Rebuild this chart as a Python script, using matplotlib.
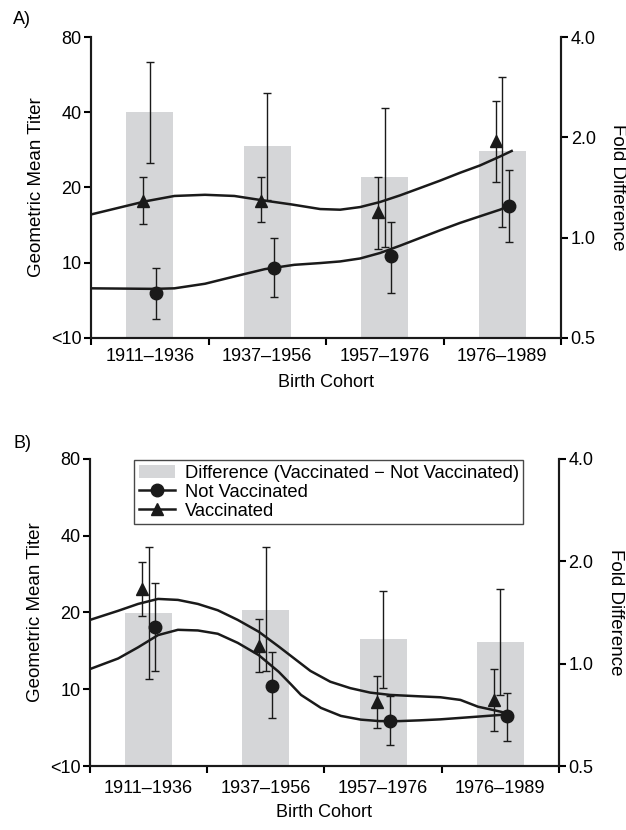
import numpy as np
import matplotlib
matplotlib.use('Agg')
import matplotlib.pyplot as plt
from matplotlib.lines import Line2D
from matplotlib.patches import Patch

plt.rcParams['font.family'] = ['Liberation Sans', 'DejaVu Sans']
plt.rcParams['font.size'] = 13

cohorts = ['1911\u20131936', '1937\u20131956', '1957\u20131976', '1976\u20131989']

# panel A
vacc_A = [17.7, 17.7, 15.9, 30.6]
vacc_A_lo = [14.3, 14.6, 11.4, 21.0]
vacc_A_hi = [22.1, 22.1, 22.1, 44.3]
novac_A = [7.6, 9.55, 10.6, 16.9]
novac_A_lo = [5.96, 7.3, 7.6, 12.1]
novac_A_hi = [9.55, 12.6, 14.6, 23.4]
fold_A = [2.38, 1.89, 1.52, 1.82]
fold_A_lo = [1.68, 1.3, 0.94, 1.08]
fold_A_hi = [3.36, 2.71, 2.45, 3.03]
curve_vacc_A_x = [-0.5, -0.04, 0.21, 0.47, 0.72, 0.95, 1.21, 1.45, 1.62, 1.79, 1.96, 2.13, 2.30, 2.47, 2.64, 2.81, 2.98, 3.08]
curve_vacc_A_y = [15.6, 17.6, 18.5, 18.7, 18.5, 17.8, 17.1, 16.4, 16.3, 16.7, 17.5, 18.6, 19.9, 21.3, 22.9, 24.5, 26.6, 28.0]
curve_novac_A_x = [-0.5, 0.04, 0.21, 0.47, 0.72, 0.98, 1.23, 1.45, 1.62, 1.79, 1.96, 2.13, 2.30, 2.47, 2.64, 2.81, 2.98, 3.05]
curve_novac_A_y = [7.9, 7.86, 7.9, 8.24, 8.81, 9.43, 9.81, 9.97, 10.12, 10.4, 10.94, 11.7, 12.56, 13.48, 14.43, 15.34, 16.3, 16.8]

# panel B
vacc_B = [24.8, 14.8, 8.9, 9.1]
vacc_B_lo = [19.4, 11.7, 7.05, 6.86]
vacc_B_hi = [31.6, 18.9, 11.3, 12.0]
novac_B = [17.5, 10.3, 7.5, 7.85]
novac_B_lo = [11.8, 7.7, 6.03, 6.27]
novac_B_hi = [26.1, 14.0, 9.4, 9.67]
fold_B = [1.41, 1.44, 1.18, 1.16]
fold_B_lo = [0.9, 0.95, 0.85, 0.81]
fold_B_hi = [2.2, 2.2, 1.64, 1.66]
curve_vacc_B_x = [-0.5, -0.26, -0.09, 0.08, 0.25, 0.42, 0.59, 0.76, 0.94, 1.11, 1.28, 1.38, 1.55, 1.72, 1.89, 2.06, 2.31, 2.49, 2.66, 2.81, 2.94, 3.06]
curve_vacc_B_y = [18.7, 20.3, 21.6, 22.6, 22.4, 21.6, 20.4, 18.7, 16.8, 14.7, 12.8, 11.8, 10.7, 10.1, 9.7, 9.5, 9.38, 9.3, 9.08, 8.54, 8.29, 8.05]
curve_novac_B_x = [-0.5, -0.26, -0.09, 0.08, 0.25, 0.42, 0.59, 0.76, 0.94, 1.11, 1.21, 1.30, 1.47, 1.64, 1.81, 1.97, 2.14, 2.31, 2.49, 2.66, 2.81, 3.0, 3.06]
curve_novac_B_y = [12.0, 13.2, 14.6, 16.3, 17.1, 17.0, 16.5, 15.2, 13.6, 11.7, 10.5, 9.5, 8.45, 7.86, 7.6, 7.5, 7.5, 7.55, 7.62, 7.72, 7.81, 7.93, 8.0]

BAR = '#d5d6d8'
INK = '#1a1a1a'


def panel(rect, vacc, vlo, vhi, novac, nlo, nhi, fold, flo, fhi, cvx, cvy, cnx, cny,
          tickpad=7, xlabelpad=7):
    ax = fig.add_axes(rect)
    ax2 = ax.twinx()
    ax.set_zorder(ax2.get_zorder() + 1)
    ax.patch.set_visible(False)
    x = np.arange(len(cohorts))

    fold = np.array(fold)
    ax2.bar(x, fold, width=0.4, color=BAR, zorder=1)
    ax2.errorbar(x, fold, yerr=[fold - np.array(flo), np.array(fhi) - fold],
                 fmt='none', ecolor=INK, elinewidth=1, capsize=3, capthick=1, zorder=2)

    ax.plot(cvx, cvy, color=INK, lw=1.8, zorder=3, solid_joinstyle='round')
    ax.plot(cnx, cny, color=INK, lw=1.8, zorder=3, solid_joinstyle='round')
    vacc = np.array(vacc)
    novac = np.array(novac)
    ax.errorbar(x - 0.055, vacc, yerr=[vacc - np.array(vlo), np.array(vhi) - vacc],
                fmt='^', color=INK, ms=8, elinewidth=1, capsize=3, capthick=1, zorder=4)
    ax.errorbar(x + 0.055, novac, yerr=[novac - np.array(nlo), np.array(nhi) - novac],
                fmt='o', color=INK, ms=9, elinewidth=1, capsize=3, capthick=1, zorder=4)

    ax.set_yscale('log', base=2)
    ax.set_ylim(5, 80)
    ax.set_yticks([5, 10, 20, 40, 80])
    ax.set_yticklabels(['<10', '10', '20', '40', '80'])
    ax.yaxis.set_minor_locator(matplotlib.ticker.NullLocator())
    ax2.set_yscale('log', base=2)
    ax2.set_ylim(0.5, 4)
    ax2.set_yticks([0.5, 1, 2, 4])
    ax2.set_yticklabels(['0.5', '1.0', '2.0', '4.0'])
    ax2.yaxis.set_minor_locator(matplotlib.ticker.NullLocator())

    ax.set_xlim(-0.5, 3.5)
    ax.set_xticks([-0.5, 0.5, 1.5, 2.5, 3.5])
    ax.set_xticklabels([])
    ax.set_xticks(x, minor=True)
    ax.set_xticklabels(cohorts, minor=True)
    ax.tick_params(axis='x', which='minor', length=0, pad=tickpad, labelsize=13)
    ax.tick_params(axis='x', which='major', length=5, width=1.5)
    ax.tick_params(axis='y', length=5, width=1.5, labelsize=13, pad=2)
    ax2.tick_params(axis='y', length=5, width=1.5, labelsize=13, pad=2)

    for a in (ax, ax2):
        a.spines['top'].set_visible(False)
        for s in ('left', 'right', 'bottom'):
            a.spines[s].set_linewidth(1.5)
            a.spines[s].set_color(INK)

    ax.set_xlabel('Birth Cohort', fontsize=13, labelpad=xlabelpad)
    ax.set_ylabel('Geometric Mean Titer', fontsize=13.5, labelpad=4)
    ax2.set_ylabel('Fold Difference', fontsize=13.5, rotation=270, labelpad=22)
    return ax, ax2


fig = plt.figure(figsize=(6.26, 8.3), dpi=100)

axA, _ = panel([0.1454, 0.5928, 0.7508, 0.3626],
               vacc_A, vacc_A_lo, vacc_A_hi, novac_A, novac_A_lo, novac_A_hi,
               fold_A, fold_A_lo, fold_A_hi,
               curve_vacc_A_x, curve_vacc_A_y, curve_novac_A_x, curve_novac_A_y)
axB, _ = panel([0.1438, 0.0771, 0.749, 0.370],
               vacc_B, vacc_B_lo, vacc_B_hi, novac_B, novac_B_lo, novac_B_hi,
               fold_B, fold_B_lo, fold_B_hi,
               curve_vacc_B_x, curve_vacc_B_y, curve_novac_B_x, curve_novac_B_y,
               tickpad=10, xlabelpad=5)

fig.text(0.021, 0.977, 'A)', fontsize=13, va='center')
fig.text(0.021, 0.466, 'B)', fontsize=13, va='center')

handles = [Patch(facecolor=BAR, edgecolor='none'),
           Line2D([], [], color=INK, lw=1.8, marker='o', ms=9),
           Line2D([], [], color=INK, lw=1.8, marker='^', ms=8)]
labels = ['Difference (Vaccinated \u2212 Not Vaccinated)', 'Not Vaccinated', 'Vaccinated']
leg = axB.legend(handles, labels, loc='upper left', bbox_to_anchor=(0.094, 0.995),
                 frameon=True, fancybox=False, edgecolor=INK, fontsize=13.2,
                 handlelength=2.0, labelspacing=0.1, borderpad=0.25,
                 handletextpad=0.5, borderaxespad=0)
leg.get_frame().set_linewidth(1.0)

fig.savefig('out.png', dpi=100)
